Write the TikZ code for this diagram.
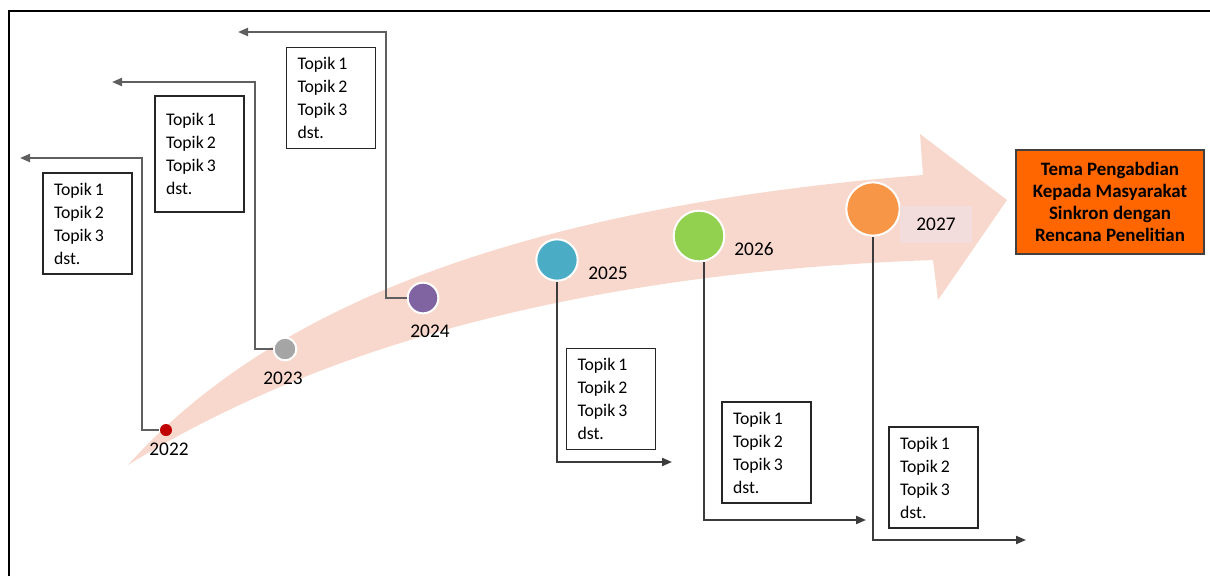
\documentclass[tikz,border=0pt]{standalone}
\usepackage{fontspec}
\setmainfont{Carlito}
\usetikzlibrary{arrows.meta}
\definecolor{band}{RGB}{248,216,205}
\definecolor{lblbg}{RGB}{242,221,220}
\definecolor{c22col}{RGB}{192,0,0}
\definecolor{c23col}{RGB}{165,165,165}
\definecolor{c24col}{RGB}{128,100,162}
\definecolor{c25col}{RGB}{75,172,198}
\definecolor{c26col}{RGB}{146,208,80}
\definecolor{c27col}{RGB}{247,150,70}
\definecolor{boxorange}{RGB}{255,102,0}
\definecolor{lineup}{RGB}{95,95,95}
\definecolor{linedown}{RGB}{60,60,60}
\newcommand\topiclist{\spaceskip=0.17em\relax Topik 1\\Topik 2\\Topik 3\\dst.}
\tikzset{
  topicbox/.style={draw=black!85, line width=1.1pt, fill=white, minimum width=66.75pt, minimum height=75.75pt,
    inner xsep=8.25pt, inner ysep=0pt, text width=50.25pt, align=left,
    font=\fontsize{13.3}{17.25}\selectfont},
  yearlbl/.style={font=\fontsize{14.5}{16}\selectfont, inner sep=0pt},
  dot/.style={circle, inner sep=0pt, draw=white, line width=1.5pt},
  connup/.style={draw=lineup, line width=1.5pt, -{Triangle[length=7.5pt,width=6pt]}},
  conndown/.style={draw=linedown, line width=1.5pt, -{Triangle[length=7.5pt,width=6pt]}},
}
\begin{document}
\begin{tikzpicture}[x=0.75pt, y=-0.75pt]
\useasboundingbox (0,0) rectangle (1210,576);
% frame
\draw[line width=2.2pt] (9,576) -- (9,11) -- (1210,11);
% big curved arrow
\fill[band] (128,465) .. controls (245,335) and (460,212) .. (923,175)
  -- (920,134) -- (1007,200) -- (938,300) -- (933,260)
  .. controls (600,272) and (330,340) .. (128,465) -- cycle;
% circles
\node[dot, draw=none, fill=c22col, minimum size=9pt] (c22) at (166,430) {};
\node[dot, fill=c23col, minimum size=17pt] (c23) at (285,349) {};
\node[dot, fill=c24col, minimum size=23pt] (c24) at (423,298) {};
\node[dot, fill=c25col, minimum size=31pt] (c25) at (557,260) {};
\node[dot, fill=c26col, minimum size=38pt] (c26) at (699,236) {};
\node[dot, fill=c27col, minimum size=40pt] (c27) at (873,209) {};
% year labels
\node[yearlbl] (y22) at (169,449) {2022};
\node[yearlbl] (y23) at (283,378) {2023};
\node[yearlbl] (y24) at (430,331) {2024};
\node[yearlbl] (y25) at (608,273) {2025};
\node[yearlbl] (y26) at (754,249) {2026};
\node[yearlbl, fill=lblbg, minimum width=54pt, minimum height=27.75pt] (y27) at (936,224) {2027};
% topic boxes
\node[topicbox] (b22) at (87.5,223.5) {\topiclist};
\node[topicbox, minimum height=87pt] (b23) at (199.5,154) {\topiclist};
\node[topicbox] (b24) at (331,98) {\topiclist};
\node[topicbox] (b25) at (611,399) {\topiclist};
\node[topicbox] (b26) at (766.5,452.5) {\topiclist};
\node[topicbox] (b27) at (933.5,477.5) {\topiclist};
% orange theme box
\node[draw=black!75, line width=1.1pt, fill=boxorange, minimum width=141pt, minimum height=78pt,
  align=center, font=\bfseries\fontsize{14.2}{16.5}\selectfont, inner sep=0pt] (tema) at (1110,202)
  {Tema Pengabdian\\Kepada Masyarakat\\Sinkron dengan\\Rencana Penelitian};
% connector end points
\coordinate (k22) at (142,158); \coordinate (e22) at (20,158);
\coordinate (k23) at (255,82);  \coordinate (e23) at (112,82);
\coordinate (k24) at (386,32);  \coordinate (e24) at (238,32);
\coordinate (e25) at (672,462);
\coordinate (e26) at (866,520);
\coordinate (e27) at (1026,540);
% connectors
\draw[connup] (c22.west) -| (k22) -- (e22);
\draw[connup] (c23.west) -| (k23) -- (e23);
\draw[connup] (c24.west) -| (k24) -- (e24);
\draw[conndown] (c25.south) |- (e25);
\draw[conndown] ([xshift=3.75pt]c26.south) |- (e26);
\draw[conndown] (c27.south) |- (e27);
\end{tikzpicture}
\end{document}
